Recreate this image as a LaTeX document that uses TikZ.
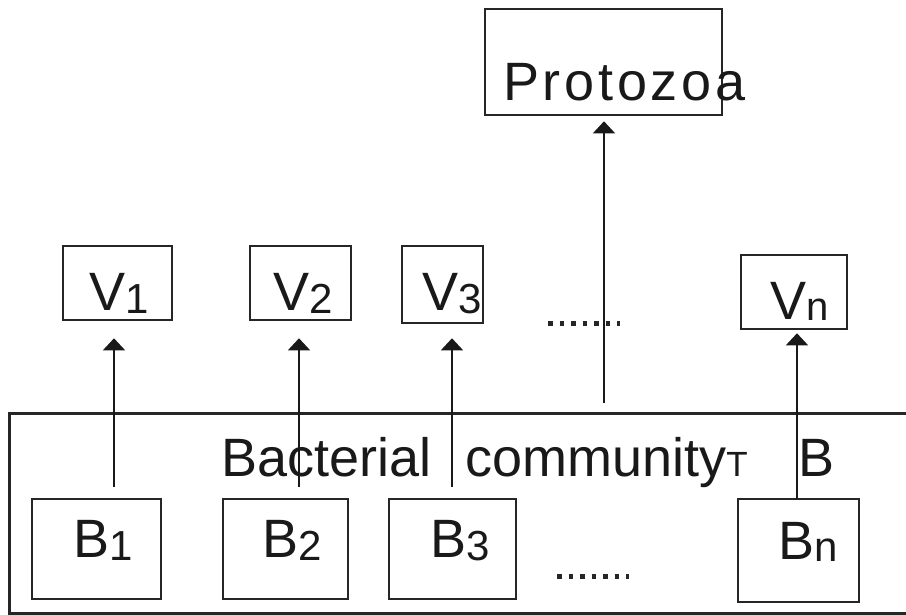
\documentclass[tikz,border=0pt]{standalone}
\usepackage{fontspec}
\setmainfont{Liberation Sans}
\newfontfamily\spacedfont[LetterSpace=6.9]{Liberation Sans}
\usetikzlibrary{arrows.meta}
\newcommand\mysub[1]{\raisebox{-3pt}{\fontsize{42}{42}\selectfont #1}}
\tikzset{
  box/.style={draw, line width=2.6pt, inner sep=0pt, fill=none, draw=black!85},
  lbl/.style={inner sep=0pt, anchor=base west, font=\fontsize{54}{60}\selectfont, text=black!90},
  link/.style={line width=1.6pt, draw=black!90, -{Triangle[width=22pt,length=12pt]}},
  dotrow/.style={line width=5pt, draw=black!85, dash pattern=on 4.5pt off 7pt}
}
\begin{document}
\begin{tikzpicture}[x=1pt,y=-1pt]
\fill[white] (0,0) rectangle (906,614);
\useasboundingbox (0,0) rectangle (906,614);
\clip (0,0) rectangle (906,614);
% big container
\node[box, anchor=north west, minimum width=920pt, minimum height=200pt] (bc) at (8,412) {};
% boxes
\node[box, minimum width=237pt, minimum height=106pt] (pz) at (603.5,62) {};
\node[box, minimum width=109pt, minimum height=74pt] (v1) at (117.5,283) {};
\node[box, minimum width=101pt, minimum height=74pt] (v2) at (300.5,283) {};
\node[box, minimum width=81pt, minimum height=77pt] (v3) at (442.5,284.5) {};
\node[box, minimum width=106pt, minimum height=74pt] (vn) at (794,292) {};
\node[box, minimum width=129pt, minimum height=100pt] (b1) at (96.5,549) {};
\node[box, minimum width=125pt, minimum height=100pt] (b2) at (285.5,549) {};
\node[box, minimum width=127pt, minimum height=100pt] (b3) at (452.5,549) {};
\node[box, minimum width=121pt, minimum height=103pt] (bn) at (798.5,550.5) {};
% labels
\node[lbl, font=\fontsize{54}{60}\spacedfont] (tpz) at (503,100) {Protozoa};
\node[lbl] (tv1) at (89,310) {V\mysub{1}};
\node[lbl] (tv2) at (273,310) {V\mysub{2}};
\node[lbl] (tv3) at (422,310) {V\mysub{3}};
\node[lbl] (tvn) at (770,319) {V\raisebox{-1pt}{\fontsize{40}{40}\selectfont n}};
\node[lbl] (tb1) at (73,557) {B\mysub{1}};
\node[lbl] (tb2) at (262,557) {B\mysub{2}};
\node[lbl] (tb3) at (430,557) {B\mysub{3}};
\node[lbl] (tbn) at (778,559) {B\raisebox{-2pt}{\fontsize{42}{42}\selectfont n}};
\node[lbl] (tbac) at (221,476) {Bacterial};
\node[lbl] (tcom) at (465,476) {community\fontsize{35}{35}\selectfont T};
\node[lbl] (tbb) at (798,476) {B};
% dots
\coordinate (d1a) at (548,323); \coordinate (d1b) at (620,323);
\coordinate (d2a) at (557,576); \coordinate (d2b) at (629,576);
\draw[dotrow] (d1a) -- (d1b);
\draw[dotrow] (d2a) -- (d2b);
% connectors
\coordinate (c1) at (114,487);
\coordinate (c2) at (299,487);
\coordinate (c3) at (452,487);
\coordinate (cp) at (604,403);
\coordinate (cn) at (797,499);
\draw[link, shorten >=17pt] (c1) -- (c1 |- v1.south);
\draw[link, shorten >=17pt] (c2) -- (c2 |- v2.south);
\draw[link, shorten >=14pt] (c3) -- (c3 |- v3.south);
\draw[link, shorten >=5pt] (cp) -- (cp |- pz.south);
\draw[link, shorten >=3pt] (cn) -- (cn |- vn.south);
\end{tikzpicture}
\end{document}
